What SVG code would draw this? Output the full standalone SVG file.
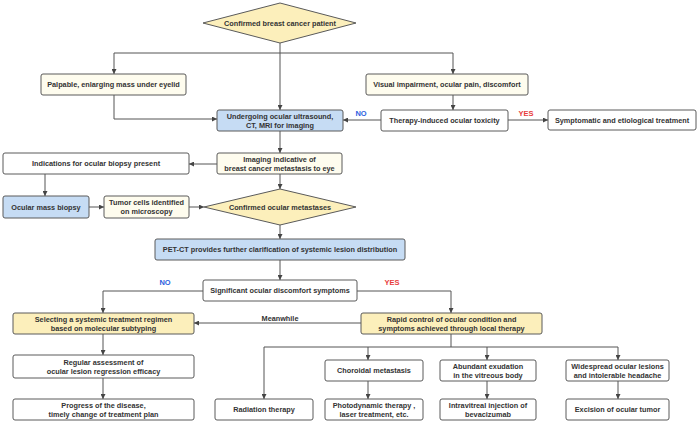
<svg xmlns="http://www.w3.org/2000/svg" width="698" height="423" viewBox="0 0 698 423">
<style>
.b{stroke:#5a5a5a;stroke-width:1;}
.w{fill:#ffffff;}
.c{fill:#fefcee;}
.y{fill:#fcefbb;}
.u{fill:#c6dcf4;}
text{font-family:"Liberation Sans",Arial,sans-serif;font-weight:bold;font-size:7.3px;fill:#333333;text-anchor:middle;}
.no{fill:#2f5fe0;font-size:7.5px;}
.yes{fill:#e83b3b;font-size:7.5px;}
.e{fill:none;stroke:#555555;stroke-width:1;marker-end:url(#a);}
.l{fill:none;stroke:#555555;stroke-width:1;}
</style>
<defs>
<marker id="a" viewBox="0 0 10 10" refX="10" refY="5" markerWidth="5" markerHeight="5" orient="auto" markerUnits="userSpaceOnUse"><path d="M0,0 L10,5 L0,10 z" fill="#444444"/></marker>
</defs>
<rect width="698" height="423" fill="#ffffff"/>
<g id="connectors">
<path class="e" d="M280,43 V110"/>
<path class="l" d="M114,53 H453"/>
<path class="e" d="M114,53 V74"/>
<path class="e" d="M453,53 V74"/>
<path class="e" d="M114,95 V119 H217"/>
<path class="e" d="M453,95 V110"/>
<path class="e" d="M381,120 H343"/>
<path class="e" d="M508,120 H548"/>
<path class="e" d="M280,131 V153"/>
<path class="e" d="M217,164 H189"/>
<path class="e" d="M45,174 V196"/>
<path class="e" d="M89,207 H104"/>
<path class="e" d="M189,207 H204"/>
<path class="e" d="M280,174 V189"/>
<path class="e" d="M280,225 V239"/>
<path class="e" d="M280,260 V280"/>
<path class="e" d="M203,291 H103 V313"/>
<path class="e" d="M357,291 H451 V313"/>
<path class="e" d="M361,323 H194"/>
<path class="e" d="M103,334 V355"/>
<path class="e" d="M103,378 V399"/>
<path class="l" d="M451,334 V347"/>
<path class="l" d="M264,347 H618"/>
<path class="e" d="M264,347 V399"/>
<path class="e" d="M368,347 V360"/>
<path class="e" d="M487,347 V360"/>
<path class="e" d="M618,347 V360"/>
<path class="e" d="M368,381 V399"/>
<path class="e" d="M487,381 V399"/>
<path class="e" d="M618,381 V399"/>
<text class="no" x="361" y="116">NO</text>
<text class="yes" x="526" y="116">YES</text>
<text class="no" x="165" y="285">NO</text>
<text class="yes" x="392" y="285">YES</text>
<text x="280" y="321">Meanwhile</text>
</g>
<g id="n-start"><polygon class="b y" points="203,23 280,3 356,23 280,43"/><text x="280" y="25.5">Confirmed breast cancer patient</text></g>
<g id="n-palpable"><rect class="b c" x="41" y="74" width="145" height="21" rx="2"/><text x="113.5" y="87">Palpable, enlarging mass under eyelid</text></g>
<g id="n-visual"><rect class="b c" x="366" y="74" width="162" height="21" rx="2"/><text x="447" y="87">Visual impairment, ocular pain, discomfort</text></g>
<g id="n-imaging"><rect class="b u" x="217" y="110" width="126" height="21" rx="2"/><text x="280" y="118.5">Undergoing ocular ultrasound,</text><text x="280" y="127.5">CT, MRI for imaging</text></g>
<g id="n-toxicity"><rect class="b w" x="381" y="110" width="127" height="21" rx="2"/><text x="444.5" y="123">Therapy-induced ocular toxicity</text></g>
<g id="n-symptomatic"><rect class="b w" x="548" y="110" width="148" height="20" rx="2"/><text x="622" y="122.5">Symptomatic and etiological treatment</text></g>
<g id="n-indicative"><rect class="b c" x="217" y="153" width="125" height="21" rx="2"/><text x="279.5" y="161.5">Imaging indicative of</text><text x="279.5" y="170.5">breast cancer metastasis to eye</text></g>
<g id="n-indications"><rect class="b w" x="3" y="153" width="186" height="21" rx="2"/><text x="96" y="166">Indications for ocular biopsy present</text></g>
<g id="n-biopsy"><rect class="b u" x="3" y="196" width="86" height="22" rx="2"/><text x="46" y="209.5">Ocular mass biopsy</text></g>
<g id="n-tumor"><rect class="b c" x="104" y="196" width="85" height="22" rx="2"/><text x="146.5" y="204.5">Tumor cells identified</text><text x="146.5" y="213.5">on microscopy</text></g>
<g id="n-confirmed"><polygon class="b y" points="204,207 280,189 356,207 280,225"/><text x="280" y="209.5">Confirmed ocular metastases</text></g>
<g id="n-petct"><rect class="b u" x="155" y="239" width="250" height="21" rx="2"/><text x="280" y="252">PET-CT provides further clarification of systemic lesion distribution</text></g>
<g id="n-significant"><rect class="b w" x="203" y="280" width="154" height="21" rx="2"/><text x="280" y="293">Significant ocular discomfort symptoms</text></g>
<g id="n-selecting"><rect class="b y" x="13" y="313" width="181" height="21" rx="2"/><text x="103.5" y="321.5">Selecting a systemic treatment regimen</text><text x="103.5" y="330.5">based on molecular subtyping</text></g>
<g id="n-rapid"><rect class="b y" x="361" y="313" width="181" height="21" rx="2"/><text x="451.5" y="321.5">Rapid control of ocular condition and</text><text x="451.5" y="330.5">symptoms achieved through local therapy</text></g>
<g id="n-regular"><rect class="b w" x="13" y="355" width="181" height="23" rx="2"/><text x="103.5" y="364.5">Regular assessment of</text><text x="103.5" y="374">ocular lesion regression efficacy</text></g>
<g id="n-progress"><rect class="b w" x="13" y="399" width="181" height="21" rx="2"/><text x="103.5" y="407.5">Progress of the disease,</text><text x="103.5" y="416.5">timely change of treatment plan</text></g>
<g id="n-radiation"><rect class="b w" x="215" y="399" width="98" height="21" rx="2"/><text x="264" y="412">Radiation therapy</text></g>
<g id="n-choroidal"><rect class="b w" x="325" y="360" width="98" height="21" rx="2"/><text x="374" y="373">Choroidal metastasis</text></g>
<g id="n-photodynamic"><rect class="b w" x="325" y="399" width="98" height="21" rx="2"/><text x="374" y="407.5">Photodynamic therapy ,</text><text x="374" y="416.5">laser treatment, etc.</text></g>
<g id="n-abundant"><rect class="b w" x="440" y="360" width="96" height="21" rx="2"/><text x="488" y="368.5">Abundant exudation</text><text x="488" y="377.5">in the vitreous body</text></g>
<g id="n-intravitreal"><rect class="b w" x="440" y="399" width="96" height="21" rx="2"/><text x="488" y="407.5">Intravitreal injection of</text><text x="488" y="416.5">bevacizumab</text></g>
<g id="n-widespread"><rect class="b w" x="566" y="360" width="103" height="21" rx="2"/><text x="617.5" y="368.5">Widespread ocular lesions</text><text x="617.5" y="377.5">and intolerable headache</text></g>
<g id="n-excision"><rect class="b w" x="566" y="399" width="103" height="21" rx="2"/><text x="617.5" y="412">Excision of ocular tumor</text></g>
</svg>
